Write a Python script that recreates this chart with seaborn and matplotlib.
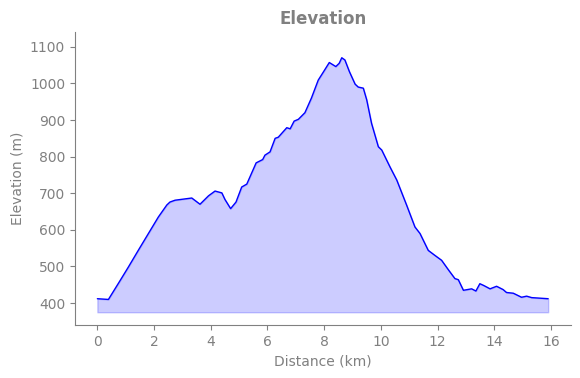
import matplotlib
matplotlib.use("Agg")
import matplotlib.pyplot as plt
import seaborn as sns
import pandas as pd

# elevation profile
distance_km = [0.00, 0.39, 0.75, 1.09, 1.45, 1.80, 2.15, 2.45, 2.56, 2.74, 3.33, 3.62,
               3.92, 4.15, 4.39, 4.50, 4.70, 4.89, 5.09, 5.27, 5.60, 5.83, 5.91, 6.09,
               6.27, 6.38, 6.68, 6.80, 6.94, 7.09, 7.32, 7.55, 7.79, 7.97, 8.18, 8.41,
               8.53, 8.62, 8.73, 8.89, 9.09, 9.20, 9.38, 9.50, 9.67, 9.91, 10.03, 10.32,
               10.56, 10.91, 11.20, 11.38, 11.67, 11.91, 12.14, 12.38, 12.61, 12.73,
               12.91, 13.20, 13.35, 13.49, 13.63, 13.85, 14.08, 14.31, 14.43, 14.67,
               14.96, 15.14, 15.32, 15.90]
elevation_m = [412, 410, 455, 498, 545, 590, 635, 668, 676, 681, 687, 670,
               693, 706, 701, 683, 658, 676, 717, 725, 783, 792, 804, 813,
               850, 853, 879, 876, 897, 902, 920, 960, 1009, 1031, 1057, 1046,
               1055, 1070, 1064, 1032, 998, 990, 987, 955, 891, 827, 818, 772,
               736, 667, 608, 590, 544, 530, 517, 491, 467, 464,
               435, 439, 433, 453, 448, 439, 446, 437, 429, 427,
               416, 419, 415, 412]

df = pd.DataFrame({"Distance (km)": distance_km, "Elevation (m)": elevation_m})

sns.set_style("ticks")
plt.rcParams["font.family"] = ["DejaVu Sans"]
grey = "#808080"

fig, ax = plt.subplots(figsize=(5.8, 3.78), dpi=100)
fig.subplots_adjust(left=0.129, right=0.984, top=0.915, bottom=0.14)

base = min(elevation_m) - 35
ax.fill_between(df["Distance (km)"], df["Elevation (m)"], base, color="blue", alpha=0.2)
sns.lineplot(data=df, x="Distance (km)", y="Elevation (m)", color="blue", linewidth=1.0, ax=ax)

ax.set_ylim(min(elevation_m) - 70, max(elevation_m) + 70)
ax.set_yticks(range(400, 1101, 100))
ax.set_xticks(range(0, 17, 2))

ax.set_title("Elevation", color=grey, fontsize=12, fontweight="bold")
ax.set_xlabel("Distance (km)", color=grey, fontsize=10)
ax.set_ylabel("Elevation (m)", color=grey, fontsize=10)
ax.tick_params(colors=grey, labelsize=10)
sns.despine(ax=ax)
for s in ["left", "bottom"]:
    ax.spines[s].set_color(grey)

fig.savefig("out.png", dpi=100)
